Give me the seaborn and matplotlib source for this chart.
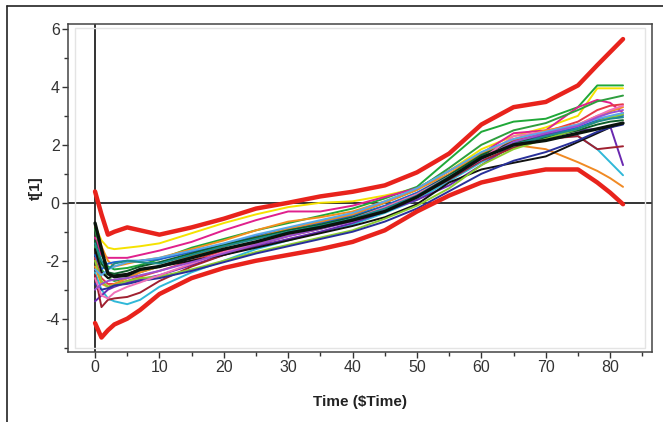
import matplotlib
matplotlib.use("Agg")
import matplotlib.pyplot as plt
from matplotlib.lines import Line2D
from matplotlib.ticker import MultipleLocator
import seaborn as sns
import pandas as pd

# ---------------- data ----------------
time = [0, 1, 2, 3, 5, 7, 10, 15, 20, 25, 30, 35, 40, 45, 50, 55, 60, 65, 70, 75, 78, 80, 82]

upper_limit = [0.39, -0.4, -1.1, -1.0, -0.85, -0.95, -1.1, -0.85, -0.55, -0.2, 0.0, 0.22, 0.38, 0.6, 1.05, 1.7, 2.7, 3.3, 3.48, 4.05, 4.75, 5.2, 5.65]
lower_limit = [-4.15, -4.65, -4.4, -4.2, -4.0, -3.7, -3.15, -2.6, -2.25, -2.0, -1.8, -1.6, -1.35, -0.95, -0.3, 0.25, 0.7, 0.95, 1.15, 1.15, 0.7, 0.35, -0.05]
average = [-0.7, -1.6, -2.45, -2.55, -2.5, -2.3, -2.2, -1.9, -1.6, -1.35, -1.05, -0.85, -0.6, -0.3, 0.2, 0.85, 1.55, 2.0, 2.15, 2.4, 2.55, 2.65, 2.75]

batch_yellow = [-0.8, -1.3, -1.55, -1.6, -1.55, -1.5, -1.4, -1.05, -0.7, -0.4, -0.15, 0.0, 0.05, 0.25, 0.5, 1.1, 1.85, 2.3, 2.6, 3.0, 3.95, 3.95, 3.95]
batch_green = [-0.9, -1.8, -2.2, -2.3, -2.25, -2.15, -1.95, -1.55, -1.25, -0.95, -0.7, -0.45, -0.2, 0.15, 0.55, 1.5, 2.45, 2.8, 2.9, 3.3, 4.05, 4.05, 4.05]
batch_magenta = [-1.2, -1.8, -1.9, -1.9, -1.9, -1.8, -1.65, -1.35, -0.95, -0.6, -0.3, -0.3, -0.1, 0.2, 0.5, 1.1, 1.7, 2.4, 2.5, 3.3, 3.55, 3.45, 3.1]
batch_green2 = [-1.5, -2.3, -2.6, -2.7, -2.6, -2.4, -2.2, -1.85, -1.5, -1.2, -0.9, -0.65, -0.4, 0.0, 0.45, 1.2, 2.0, 2.5, 2.75, 3.2, 3.5, 3.6, 3.7]
batch_crimson = [-1.9, -2.6, -2.8, -2.8, -2.7, -2.55, -2.35, -2.0, -1.65, -1.35, -1.05, -0.8, -0.55, -0.2, 0.3, 0.9, 1.6, 2.15, 2.45, 2.8, 3.2, 3.35, 3.4]
batch_orange = [-0.7, -1.5, -2.0, -2.2, -2.1, -2.0, -1.9, -1.6, -1.3, -0.95, -0.65, -0.5, -0.3, 0.05, 0.45, 1.0, 1.7, 2.2, 2.5, 2.7, 3.0, 3.15, 3.3]
batch_blue = [-1.8, -2.3, -2.1, -2.05, -2.0, -2.0, -1.95, -1.7, -1.45, -1.15, -0.9, -0.7, -0.45, -0.1, 0.35, 0.95, 1.6, 2.05, 2.35, 2.6, 2.85, 2.95, 3.0]
batch_cyan = [-2.4, -3.0, -3.3, -3.4, -3.5, -3.35, -2.9, -2.4, -2.0, -1.6, -1.3, -1.0, -0.75, -0.35, 0.1, 0.75, 1.4, 1.95, 2.25, 2.3, 1.85, 1.4, 0.95]
batch_orange2 = [-2.2, -2.8, -2.9, -2.8, -2.6, -2.4, -2.2, -1.85, -1.5, -1.2, -0.9, -0.65, -0.4, 0.0, 0.45, 1.1, 1.7, 2.0, 1.85, 1.4, 1.1, 0.85, 0.55]
batch_purple = [-3.4, -3.2, -3.0, -2.9, -2.75, -2.65, -2.5, -2.15, -1.8, -1.5, -1.25, -1.0, -0.7, -0.3, 0.1, 0.6, 1.3, 2.0, 2.35, 2.5, 2.55, 2.65, 1.3]
batch_darkred = [-2.5, -3.6, -3.35, -3.3, -3.25, -3.1, -2.7, -2.2, -1.8, -1.45, -1.15, -0.9, -0.6, -0.25, 0.2, 0.8, 1.45, 1.9, 2.2, 2.3, 1.85, 1.9, 1.95]
batch_black = [-1.6, -2.4, -2.6, -2.5, -2.45, -2.3, -2.2, -2.0, -1.8, -1.55, -1.3, -1.05, -0.8, -0.5, -0.05, 0.7, 1.15, 1.38, 1.6, 2.1, 2.4, 2.6, 2.75]
batch_darkgreen = [-1.3, -2.1, -2.4, -2.45, -2.35, -2.2, -2.05, -1.75, -1.45, -1.2, -0.95, -0.75, -0.5, -0.15, 0.3, 0.95, 1.65, 2.1, 2.25, 2.5, 2.7, 2.8, 2.85]
batch_lime = [-2.0, -2.7, -2.9, -2.85, -2.7, -2.6, -2.55, -2.3, -2.0, -1.7, -1.45, -1.2, -0.95, -0.55, -0.1, 0.5, 1.3, 1.85, 2.2, 2.55, 2.8, 2.95, 3.05]
batch_darkblue = [-2.8, -3.0, -2.95, -2.85, -2.8, -2.7, -2.6, -2.35, -2.05, -1.75, -1.5, -1.25, -1.0, -0.65, -0.2, 0.4, 1.0, 1.45, 1.75, 2.15, 2.45, 2.6, 2.7]
batch_pink = [-2.6, -3.2, -3.3, -3.1, -2.9, -2.75, -2.5, -2.1, -1.7, -1.4, -1.1, -0.85, -0.55, -0.15, 0.3, 0.9, 1.5, 2.3, 2.45, 2.7, 3.0, 3.2, 3.35]
batch_lightblue = [-2.3, -2.5, -2.3, -2.2, -2.05, -2.0, -1.9, -1.65, -1.4, -1.1, -0.85, -0.6, -0.35, 0.05, 0.5, 1.1, 1.75, 2.2, 2.45, 2.7, 2.9, 3.0, 3.1]
batch_violet = [-3.0, -2.8, -2.7, -2.65, -2.6, -2.5, -2.35, -2.05, -1.75, -1.45, -1.15, -0.9, -0.65, -0.25, 0.2, 0.85, 1.5, 2.1, 2.4, 2.65, 2.95, 3.1, 3.2]
batch_teal = [-1.4, -2.0, -2.3, -2.1, -2.0, -2.05, -2.1, -1.8, -1.5, -1.25, -1.0, -0.8, -0.55, -0.2, 0.25, 0.9, 1.55, 2.0, 2.3, 2.55, 2.8, 2.9, 2.95]

batches = {
    "yellow": batch_yellow, "green": batch_green, "magenta": batch_magenta,
    "green2": batch_green2, "crimson": batch_crimson, "orange": batch_orange,
    "blue": batch_blue, "cyan": batch_cyan, "orange2": batch_orange2,
    "purple": batch_purple, "darkred": batch_darkred, "black": batch_black,
    "darkgreen": batch_darkgreen, "lime": batch_lime, "darkblue": batch_darkblue,
    "pink": batch_pink, "lightblue": batch_lightblue, "violet": batch_violet,
    "teal": batch_teal,
}
palette = {
    "yellow": "#f5e200", "green": "#1fa838", "magenta": "#e0208c",
    "green2": "#2e9e3e", "crimson": "#e63a46", "orange": "#f5901e",
    "blue": "#2060d0", "cyan": "#30b8d8", "orange2": "#f08a24",
    "purple": "#6a28b0", "darkred": "#a02030", "black": "#111111",
    "darkgreen": "#0d5e2a", "lime": "#8ccc30", "darkblue": "#28309a",
    "pink": "#f070b8", "lightblue": "#58a8e8", "violet": "#9a50d0",
    "teal": "#1c8c8c",
}

rows = []
for name, vals in batches.items():
    for t, v in zip(time, vals):
        rows.append({"time": t, "score": v, "batch": name})
df = pd.DataFrame(rows)

limits = pd.DataFrame(
    [{"time": t, "score": v, "kind": "upper"} for t, v in zip(time, upper_limit)]
    + [{"time": t, "score": v, "kind": "lower"} for t, v in zip(time, lower_limit)]
)
avg = pd.DataFrame({"time": time, "score": average})

# ---------------- plot ----------------
sns.set_theme(style="white")
plt.rcParams["font.family"] = ["Liberation Sans", "DejaVu Sans"]
plt.rcParams["axes.unicode_minus"] = False

fig = plt.figure(figsize=(6.63, 4.22), dpi=100)
ax = fig.add_axes([68 / 663, 1 - 352 / 422, (652 - 68) / 663, (352 - 24) / 422])

sns.lineplot(data=df, x="time", y="score", hue="batch", palette=palette,
             linewidth=1.4, legend=False, ax=ax, estimator=None, sort=False)
sns.lineplot(data=avg, x="time", y="score", color="#0a140e", linewidth=2.4,
             legend=False, ax=ax, estimator=None)
sns.lineplot(data=limits, x="time", y="score", units="kind", estimator=None,
             color="#e8231c", linewidth=3.2, legend=False, ax=ax)

ax.axhline(0, color="#333333", lw=1.4, zorder=0.5)
ax.axvline(0, color="#333333", lw=1.4, zorder=0.5)

ax.set_xlim(-4.2, 86.5)
ax.set_ylim(-5.15, 6.17)
ax.xaxis.set_major_locator(MultipleLocator(10))
ax.xaxis.set_minor_locator(MultipleLocator(5))
ax.yaxis.set_major_locator(MultipleLocator(2))
ax.yaxis.set_minor_locator(MultipleLocator(1))
ax.tick_params(which="major", direction="out", length=4, width=1, color="#333333",
               labelsize=11.5, labelcolor="#333333", bottom=True, left=True, pad=2)
ax.tick_params(which="minor", direction="out", length=3, width=1, color="#333333",
               bottom=True, left=True)

for sp in ax.spines.values():
    sp.set_color("#444444")
    sp.set_linewidth(1.1)

ax.set_xlabel("Time (\\$Time)", fontsize=11, fontweight="bold", color="#222222", labelpad=14)
ax.set_ylabel("t[1]", fontsize=11, fontweight="bold", color="#222222", labelpad=2)

# faint inner frame
ax.add_artist(Line2D([0.012, 0.988, 0.988, 0.012, 0.012], [0.012, 0.012, 0.988, 0.988, 0.012],
                     transform=ax.transAxes, color="#e4e4e4", lw=1))

# outer figure frame
fig.add_artist(Line2D([7 / 663, 7 / 663], [0, 1 - 6 / 422], transform=fig.transFigure,
                      color="#222222", lw=1.2))
fig.add_artist(Line2D([7 / 663, 1], [1 - 6 / 422, 1 - 6 / 422], transform=fig.transFigure,
                      color="#222222", lw=1.2))

fig.savefig("out.png", dpi=100)
